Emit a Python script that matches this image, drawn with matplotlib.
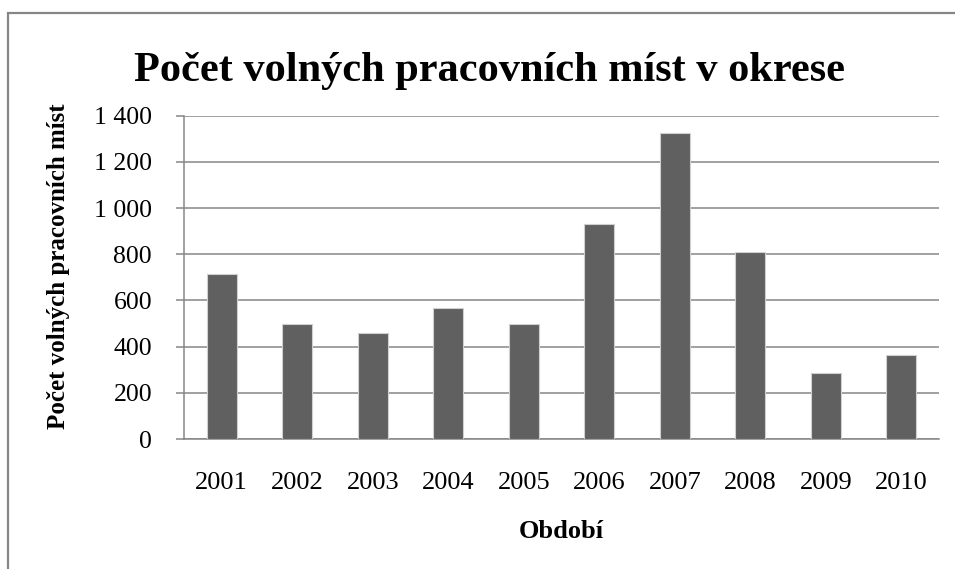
import matplotlib.pyplot as plt
from matplotlib.patches import Rectangle
from matplotlib.ticker import FuncFormatter

years = ["2001", "2002", "2003", "2004", "2005", "2006", "2007", "2008", "2009", "2010"]
vacancies = [713, 499, 457, 568, 496, 929, 1323, 808, 287, 362]
y_ticks = [0, 200, 400, 600, 800, 1000, 1200, 1400]

plt.rcParams['font.family'] = ['Liberation Serif', 'DejaVu Serif']
grey = "#868686"

fig = plt.figure(figsize=(9.55, 5.69), dpi=100)
ax = fig.add_axes([184 / 955, 1 - 439 / 569, (939 - 184) / 955, (439 - 115.7) / 569])

# outer chart frame (only top and left edges are inside the picture)
fig.patches.append(Rectangle((8 / 955, -0.1), 1.2, 1 - 13 / 569 + 0.1, transform=fig.transFigure,
                             fill=False, edgecolor=grey, linewidth=1.6))

x = range(len(years))
ax.bar(x, vacancies, width=0.4, color="#606060", edgecolor="#d0d0d0", linewidth=0.8, zorder=3)

ax.set_xlim(-0.5, len(years) - 0.5)
ax.set_ylim(0, 1400)
ax.set_yticks(y_ticks)
ax.yaxis.set_major_formatter(FuncFormatter(lambda v, p: f"{int(v):,}".replace(",", " ")))
ax.set_xticks(list(x))
ax.set_xticklabels(years)

ax.grid(axis="y", color=grey, linewidth=1.1, zorder=0)
for side in ["top", "right"]:
    ax.spines[side].set_visible(False)
for side in ["left", "bottom"]:
    ax.spines[side].set_color(grey)
    ax.spines[side].set_linewidth(1.1)
ax.tick_params(axis="y", length=6, width=1.1, color=grey, pad=17, labelsize=18.5)
ax.tick_params(axis="x", length=0, pad=24, labelsize=19)

fig.text(0.513, 1 - 71 / 569, "Počet volných pracovních míst v okrese", ha="center", va="center",
         fontsize=30.5, fontweight="bold")
fig.text(59 / 955, 1 - 266 / 569, "Počet volných pracovních míst", rotation=90, ha="center", va="center",
         fontsize=18, fontweight="bold")
fig.text(561 / 955, 1 - 531 / 569, "Období", ha="center", va="center", fontsize=19, fontweight="bold")

fig.savefig("out.png", dpi=100)
